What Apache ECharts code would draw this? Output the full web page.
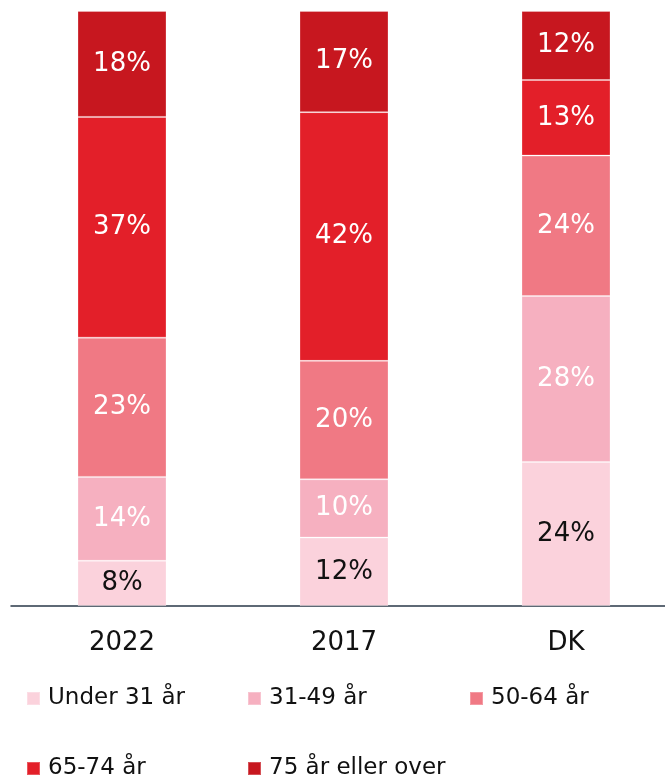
<!DOCTYPE html>
<html>
<head>
<meta charset="utf-8">
<script src="https://cdn.jsdelivr.net/npm/echarts@6/dist/echarts.min.js"></script>
<style>
html,body{margin:0;padding:0;background:#fff;overflow:hidden;width:665px;height:778px;}
#chart{width:680px;height:778px;}
</style>
</head>
<body>
<div id="chart"></div>
<script>
const categories = ['2022', '2017', 'DK'];
const seriesNames = ['Under 31 år', '31-49 år', '50-64 år', '65-74 år', '75 år eller over'];
const under31 = [7.6, 11.5, 24.2];
const age31to49 = [14.1, 9.8, 27.9];
const age50to64 = [23.4, 19.9, 23.6];
const age65to74 = [37.1, 41.8, 12.7];
const age75plus = [17.8, 17.0, 11.6];
const colors = ['#FBD2DC', '#F6B0C0', '#F07984', '#E31F29', '#C7171F'];
const labelColors = ['#111111', '#ffffff', '#ffffff', '#ffffff', '#ffffff'];

const values = [under31, age31to49, age50to64, age65to74, age75plus];
const FONT = 'DejaVu Sans';

const series = seriesNames.map((name, i) => ({
  name: name,
  type: 'bar',
  stack: 'total',
  barWidth: 89,
  data: values[i],
  itemStyle: { color: colors[i], borderColor: 'rgba(255,255,255,0.25)', borderWidth: 1 },
  label: {
    show: true,
    position: 'inside',
    formatter: p => Math.round(p.value) + '%',
    color: labelColors[i],
    fontFamily: FONT,
    fontSize: 26
  },
  emphasis: { disabled: true }
}));

const legendPos = [[26, 687], [247, 687], [469, 687], [26, 757], [247, 757]];
const legends = seriesNames.map((name, i) => ({
  data: [name],
  left: legendPos[i][0],
  top: legendPos[i][1],
  padding: 0,
  itemWidth: 13,
  itemHeight: 13,
  icon: 'rect',
  selectedMode: false,
  textStyle: { fontFamily: FONT, fontSize: 23, color: '#111111', padding: [0, 0, 0, 3] }
}));

const chart = echarts.init(document.getElementById('chart'), null, { renderer: 'canvas' });
chart.setOption({
  animation: false,
  color: colors,
  grid: { left: 11, top: 11, width: 666, height: 595, containLabel: false },
  legend: legends,
  xAxis: {
    type: 'category',
    data: categories,
    axisLine: { show: true, lineStyle: { color: '#2a3848', width: 1.5 } },
    axisTick: { show: false },
    axisLabel: { fontFamily: FONT, fontSize: 26, color: '#111111', margin: 24 }
  },
  yAxis: {
    type: 'value',
    min: 0,
    max: 100,
    show: false
  },
  series: series
});
</script>
</body>
</html>
